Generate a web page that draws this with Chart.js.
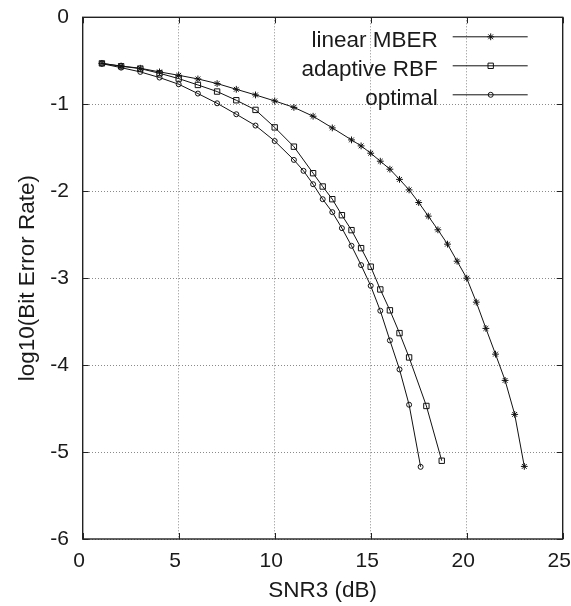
<!DOCTYPE html>
<html>
<head>
<meta charset="utf-8">
<script src="https://cdn.jsdelivr.net/npm/chart.js@4/dist/chart.umd.min.js"></script>
<style>
  html, body { margin: 0; padding: 0; background: #ffffff; }
  #wrap { width: 571px; height: 606px; }
</style>
</head>
<body>
<div id="wrap"><canvas id="c" width="571" height="606"></canvas></div>
<script>
// ---- data ----
const seriesNames = ['linear MBER', 'adaptive RBF', 'optimal'];

const mberX = [1,2,3,4,5,6,7,8,9,10,11,12,13,14,14.5,15,15.5,16,16.5,17,17.5,18,18.5,19,19.5,20,20.5,21,21.5,22,22.5,23];
const mberY = [-0.53,-0.56,-0.586,-0.628,-0.667,-0.709,-0.762,-0.828,-0.893,-0.962,-1.036,-1.138,-1.272,-1.41,-1.479,-1.563,-1.655,-1.747,-1.864,-1.985,-2.13,-2.287,-2.444,-2.609,-2.805,-3.0,-3.276,-3.578,-3.874,-4.176,-4.567,-5.165];

const rbfX = [1,2,3,4,5,6,7,8,9,10,11,12,12.5,13,13.5,14,14.5,15,15.5,16,16.5,17,17.9,18.7];
const rbfY = [-0.53,-0.563,-0.59,-0.644,-0.705,-0.778,-0.854,-0.954,-1.065,-1.266,-1.488,-1.793,-1.946,-2.092,-2.276,-2.448,-2.655,-2.868,-3.13,-3.37,-3.632,-3.912,-4.47,-5.1];

const optX = [1,2,3,4,5,6,7,8,9,10,11,11.5,12,12.5,13,13.5,14,14.5,15,15.5,16,16.5,17,17.6];
const optY = [-0.533,-0.579,-0.628,-0.693,-0.77,-0.877,-0.989,-1.115,-1.245,-1.423,-1.64,-1.766,-1.92,-2.092,-2.241,-2.425,-2.628,-2.85,-3.088,-3.375,-3.716,-4.05,-4.456,-5.17];

const xTicks = [0, 5, 10, 15, 20, 25];
const yTicks = [0, -1, -2, -3, -4, -5, -6];
const xTitle = 'SNR3 (dB)';
const yTitle = 'log10(Bit Error Rate)';

// ---- build ----
const FONT = '"Liberation Sans", Arial, Helvetica, sans-serif';
const TEXT = '#1a1a1a';
function pts(xs, ys) { return xs.map((x, i) => ({ x: x, y: ys[i] })); }

const styles = [
  { pointStyle: 'star', pointRadius: 3.4 },
  { pointStyle: 'rect', pointRadius: 3.8 },
  { pointStyle: 'circle', pointRadius: 2.5 }
];
const sets = [pts(mberX, mberY), pts(rbfX, rbfY), pts(optX, optY)];

const datasets = sets.map((d, i) => ({
  label: seriesNames[i],
  data: d,
  borderColor: '#111111',
  borderWidth: 1,
  pointStyle: styles[i].pointStyle,
  pointRadius: styles[i].pointRadius,
  pointBorderWidth: 1,
  pointBorderColor: '#111111',
  pointBackgroundColor: 'rgba(255,255,255,0)',
  showLine: true,
  tension: 0,
  fill: false
}));

function zeroPad(s) { s.paddingLeft = 0; s.paddingRight = 0; s.paddingTop = 0; s.paddingBottom = 0; }

const framePlugin = {
  id: 'gpFrame',
  afterDatasetsDraw(chart) {
    const ctx = chart.ctx;
    const a = chart.chartArea;
    const xs = chart.scales.x, ys = chart.scales.y;
    ctx.save();
    ctx.strokeStyle = '#222222';
    ctx.lineWidth = 1.4;
    ctx.strokeRect(a.left, a.top, a.right - a.left, a.bottom - a.top);
    ctx.lineWidth = 1;
    const L = 6;
    ctx.beginPath();
    xTicks.forEach(v => {
      const p = Math.round(xs.getPixelForValue(v)) + 0.5;
      ctx.moveTo(p, a.bottom); ctx.lineTo(p, a.bottom - L);
      ctx.moveTo(p, a.top); ctx.lineTo(p, a.top + L);
    });
    yTicks.forEach(v => {
      const p = Math.round(ys.getPixelForValue(v)) + 0.5;
      ctx.moveTo(a.left, p); ctx.lineTo(a.left + L, p);
      ctx.moveTo(a.right, p); ctx.lineTo(a.right - L, p);
    });
    ctx.stroke();

    // key (gnuplot style: text then sample)
    chart.data.datasets.forEach((ds, i) => {
      const y = a.top + 19 + i * 29;
      const tx = a.right - 125;
      ctx.font = '22.5px ' + FONT;
      ctx.fillStyle = TEXT;
      ctx.textAlign = 'right';
      ctx.textBaseline = 'alphabetic';
      ctx.fillText(ds.label, tx, y + 10.5);
      ctx.strokeStyle = '#111111';
      ctx.lineWidth = 1;
      ctx.beginPath();
      ctx.moveTo(a.right - 110, y + 0.5);
      ctx.lineTo(a.right - 35, y + 0.5);
      ctx.stroke();
      ctx.fillStyle = 'rgba(255,255,255,0)';
      Chart.helpers.drawPoint(ctx, { pointStyle: ds.pointStyle, radius: ds.pointRadius, borderWidth: 1, rotation: 0 }, a.right - 72, y + 0.5);
    });
    ctx.restore();
  }
};

new Chart(document.getElementById('c'), {
  type: 'line',
  data: { datasets: datasets },
  options: {
    responsive: false,
    animation: false,
    devicePixelRatio: 1,
    layout: { padding: { top: 17.3, right: 8.3, left: 0, bottom: 0 } },
    plugins: { legend: { display: false }, tooltip: { enabled: false } },
    elements: { line: { borderWidth: 1 } },
    scales: {
      x: {
        type: 'linear',
        min: 0, max: 25,
        afterBuildTicks(s) { s.ticks = xTicks.map(v => ({ value: v })); },
        afterFit(s) { s.height = 67; zeroPad(s); },
        grid: { color: '#8a8a8a', lineWidth: 1, drawTicks: false },
        border: { display: false, dash: [1, 2] },
        ticks: { color: TEXT, font: { family: FONT, size: 21 }, padding: 10, maxRotation: 0, labelOffset: -3.5 },
        title: { display: true, text: xTitle, color: TEXT, font: { family: FONT, size: 22.5 }, padding: { top: 0, bottom: 1.8 } }
      },
      y: {
        type: 'linear',
        min: -6, max: 0,
        afterBuildTicks(s) { s.ticks = yTicks.map(v => ({ value: v })); },
        afterFit(s) { s.width = 82.7; zeroPad(s); },
        grid: { color: '#8a8a8a', lineWidth: 1, drawTicks: false },
        border: { display: false, dash: [1, 2] },
        ticks: { color: TEXT, font: { family: FONT, size: 21 }, padding: 13.7 },
        title: { display: true, text: yTitle, color: TEXT, font: { family: FONT, size: 22.5 }, padding: { top: 14.5, bottom: 0 } }
      }
    }
  },
  plugins: [framePlugin]
});
</script>
</body>
</html>
